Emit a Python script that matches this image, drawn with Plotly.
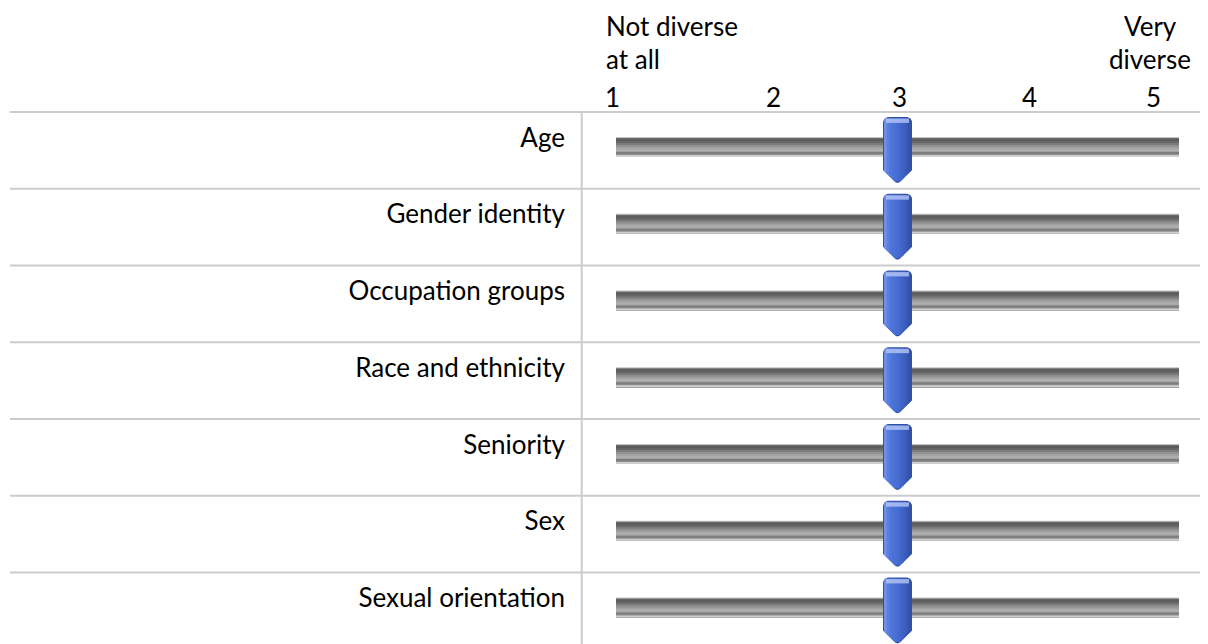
import math
import plotly.graph_objects as go

# ---------------- data ----------------
categories = ["Age", "Gender identity", "Occupation groups", "Race and ethnicity",
              "Seniority", "Sex", "Sexual orientation"]
scores = [3, 3, 3, 3, 3, 3, 3]
scale_min, scale_max = 1, 5
scale_ticks = ["1", "2", "3", "4", "5"]
low_label = ["Not diverse", "at all"]
high_label = ["Very", "diverse"]

# ---------------- layout constants (screen pixels) ----------------
W, H = 1208, 644
OFF = 8  # page body margin offset
FONT = "Lato"
FS = 26
TRACK_X0_PX, TRACK_X1_PX = 616, 1179
PXU = (TRACK_X1_PX - TRACK_X0_PX) / (scale_max - scale_min)
x_lo = scale_min - (TRACK_X0_PX - OFF) / PXU
x_hi = x_lo + W / PXU
ROW_PX = 76.75
ROW0_CENTER = 150.4
y_top = -(ROW0_CENTER - OFF) / ROW_PX
y_bot = y_top + H / ROW_PX
GRID = "#cccccc"

header_num_x_px = [612, 773, 899, 1029, 1153]
header_line_y_px = [26, 59]
header_num_y_px = 97


def py(px):  # screen pixel row -> paper y
    return 1 - (px - OFF) / H


def px_x(px):  # screen pixel column -> paper x
    return (px - OFF) / W


# ---------------- geometry helpers (pixel offsets, y downward) ----------------
def knob_outline():
    hw, top, side_end, tip, r = 14.5, -33.4, 19.6, 32.6, 6.0
    pts = [(-hw, side_end), (-hw, top + r)]
    for k in range(1, 8):
        a = math.pi + k * (math.pi / 2) / 8
        pts.append((-hw + r + r * math.cos(a), top + r + r * math.sin(a)))
    pts += [(-hw + r, top), (hw - r, top)]
    for k in range(1, 8):
        a = 1.5 * math.pi + k * (math.pi / 2) / 8
        pts.append((hw - r + r * math.cos(a), top + r + r * math.sin(a)))
    pts += [(hw, top + r), (hw, side_end), (2.0, tip - 0.8), (0, tip), (-2.0, tip - 0.8)]
    return pts


def clip(poly, xmin, xmax, ymin, ymax):
    def clip_edge(p, inside, inter):
        out = []
        n = len(p)
        for i in range(n):
            cur, prev = p[i], p[i - 1]
            if inside(cur):
                if not inside(prev):
                    out.append(inter(prev, cur))
                out.append(cur)
            elif inside(prev):
                out.append(inter(prev, cur))
        return out

    def ix(xv):
        return lambda a, b: (xv, a[1] + (b[1] - a[1]) * (xv - a[0]) / (b[0] - a[0]))

    def iy(yv):
        return lambda a, b: (a[0] + (b[0] - a[0]) * (yv - a[1]) / (b[1] - a[1]), yv)

    p = poly
    for inside, inter in [(lambda q: q[0] >= xmin, ix(xmin)), (lambda q: q[0] <= xmax, ix(xmax)),
                          (lambda q: q[1] >= ymin, iy(ymin)), (lambda q: q[1] <= ymax, iy(ymax))]:
        if not p:
            break
        p = clip_edge(p, inside, inter)
    return p


def path_str(poly):
    # pixel size mode: positive y is up, so negate
    return "M " + " L ".join(f"{x:.2f},{-y:.2f}" for x, y in poly) + " Z"


# track gradient bands: top offset relative to track top, colour (each drawn down to bottom)
TRACK_TOP = -13.4
TRACK_H = 20
track_bands = [
    (0, "#c4c4c4"), (1, "#6c6c6c"), (2, "#5c5c5c"), (4, "#666666"),
    (6, "#7c7c7c"), (8, "#919191"), (10, "#a3a3a3"), (12, "#aeaeae"),
    (14, "#a2a2a2"), (15, "#7e7e7e"), (17, "#8e8e8e"), (18, "#cfcfcf"),
]

shapes = []
# table grid
for i in range(len(categories) + 1):
    shapes.append(dict(type="line", xref="paper", yref="y", x0=px_x(10), x1=1,
                       y0=i - 0.5, y1=i - 0.5, line=dict(color=GRID, width=2), layer="below"))
shapes.append(dict(type="line", xref="paper", yref="y", x0=px_x(581.7), x1=px_x(581.7),
                   y0=-0.5, y1=len(categories) - 0.5, line=dict(color=GRID, width=2),
                   layer="below"))

outline = knob_outline()
knob_cols = ["#6f8fe8", "#5a80e2", "#5078dc", "#4a72d8", "#4870d4", "#456bd0",
             "#4165c8", "#3d60c0", "#3859b6", "#3452aa"]
for i, (cat, val) in enumerate(zip(categories, scores)):
    # track
    for (t0, col) in track_bands:
        shapes.append(dict(type="rect", xref="x", yref="y", ysizemode="pixel", yanchor=i,
                           x0=scale_min, x1=scale_max,
                           y0=-(TRACK_TOP + t0), y1=-(TRACK_TOP + TRACK_H),
                           fillcolor=col, line=dict(width=0)))
    # knob body (outline colour)
    shapes.append(dict(type="path", xref="x", yref="y", xsizemode="pixel", ysizemode="pixel",
                       xanchor=val, yanchor=i, path=path_str(outline),
                       fillcolor="#3050a4", line=dict(width=0)))
    # horizontal gradient strips
    n = len(knob_cols)
    for k in range(n):
        xa = -13.5 + 27.0 * k / n
        xb = -13.5 + 27.0 * (k + 1) / n + 0.4
        poly = clip(outline, xa, xb, -32.4, 31.0)
        if len(poly) >= 3:
            shapes.append(dict(type="path", xref="x", yref="y", xsizemode="pixel",
                               ysizemode="pixel", xanchor=val, yanchor=i, path=path_str(poly),
                               fillcolor=knob_cols[k], line=dict(width=0)))
    # top highlight
    hl = clip(outline, -11.5, 11.5, -31.8, -27.5)
    if len(hl) >= 3:
        shapes.append(dict(type="path", xref="x", yref="y", xsizemode="pixel",
                           ysizemode="pixel", xanchor=val, yanchor=i, path=path_str(hl),
                           fillcolor="rgba(190,205,250,0.75)", line=dict(width=0)))

fig = go.Figure()
fig.add_trace(go.Scatter(x=scores, y=list(range(len(categories))), mode="markers",
                         marker=dict(size=20, opacity=0), hovertext=categories,
                         hoverinfo="text+x", showlegend=False))

annotations = []
txt = dict(family=FONT, size=FS, color="#000000")
for j, line in enumerate(low_label):
    annotations.append(dict(text=line, xref="paper", yref="paper", x=px_x(604),
                            y=py(header_line_y_px[j]), xanchor="left", yanchor="middle",
                            showarrow=False, font=txt))
for j, line in enumerate(high_label):
    annotations.append(dict(text=line, xref="paper", yref="paper", x=px_x(1150),
                            y=py(header_line_y_px[j]), xanchor="center", yanchor="middle",
                            showarrow=False, font=txt))
for lab, xp in zip(scale_ticks, header_num_x_px):
    annotations.append(dict(text=lab, xref="paper", yref="paper", x=px_x(xp),
                            y=py(header_num_y_px), xanchor="center", yanchor="middle",
                            showarrow=False, font=txt))

fig.update_layout(
    width=W, height=H, margin=dict(l=0, r=0, t=0, b=0),
    paper_bgcolor="white", plot_bgcolor="white",
    font=txt, shapes=shapes, annotations=annotations, showlegend=False,
    xaxis=dict(range=[x_lo, x_hi], visible=False, fixedrange=True),
    yaxis=dict(range=[y_bot, y_top], tickmode="array",
               tickvals=list(range(len(categories))), ticktext=categories,
               anchor="free", position=px_x(565), side="left",
               showgrid=False, zeroline=False, showline=False, ticks="",
               tickfont=txt, ticklabelshift=13, fixedrange=True),
)

fig.write_html("out.html")
